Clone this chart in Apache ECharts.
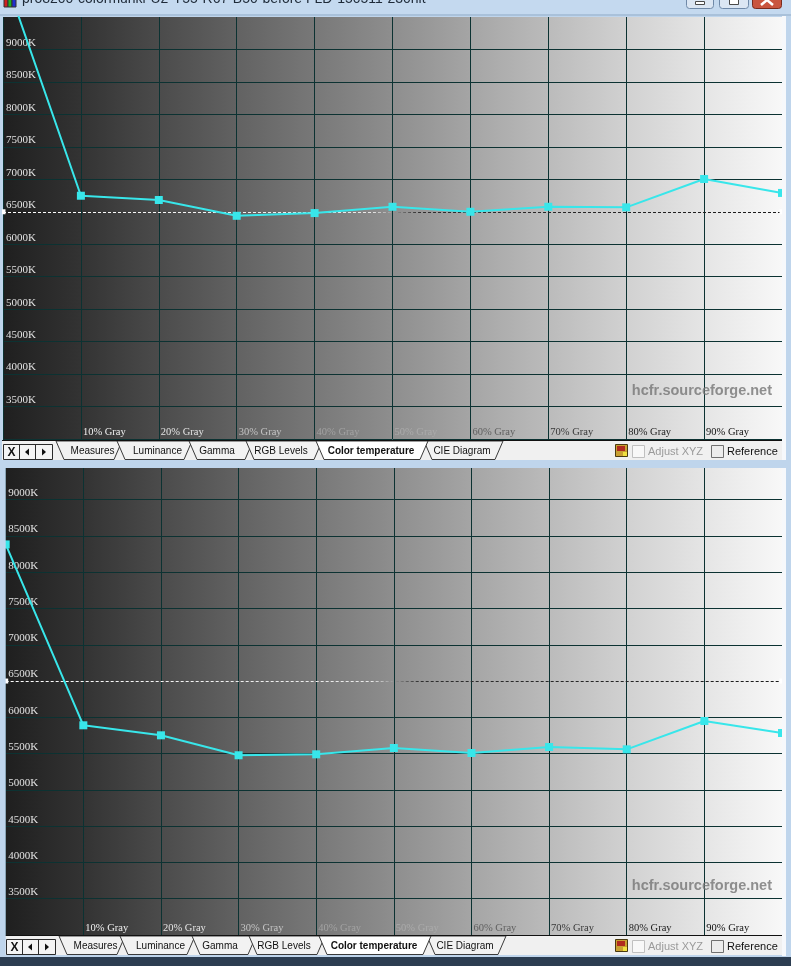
<!DOCTYPE html>
<html><head><meta charset="utf-8">
<script src="https://cdn.jsdelivr.net/npm/echarts@6/dist/echarts.min.js"></script>
<style>html,body{margin:0;padding:0;background:#bfd5ec;}#c{width:791px;height:966px;}</style>
</head><body><div id="c"></div><script>
// ---------- data ----------
const grayLevels = [0, 10, 20, 30, 40, 50, 60, 70, 80, 90, 100];
const tempBefore = [10200, 6747, 6681, 6438, 6480, 6577, 6500, 6577, 6568, 7005, 6790];
const tempAfter = [8383, 5890, 5752, 5477, 5490, 5577, 5508, 5591, 5559, 5949, 5784];
const referenceTemp = 6500;
const yTickValues = [3500, 4000, 4500, 5000, 5500, 6000, 6500, 7000, 7500, 8000, 8500, 9000];
const xTickValues = [10, 20, 30, 40, 50, 60, 70, 80, 90];
const xTickLabels = ['10% Gray', '20% Gray', '30% Gray', '40% Gray', '50% Gray', '60% Gray', '70% Gray', '80% Gray', '90% Gray'];
const tabNames = ['Measures', 'Luminance', 'Gamma', 'RGB Levels', 'Color temperature', 'CIE Diagram'];
const activeTab = 4;
const titleText = 'pro8200-colormunki-U2-Y55-R67-B50-before FLD-150511-230nit';
const watermarkText = 'hcfr.sourceforge.net';
const checkLabels = ['Adjust XYZ', 'Reference'];

// ---------- styles ----------
const CYAN = '#38e6ea';
const GRIDLINE = '#0c3232';
const xLabelColors = ['#f0f0f0', '#e4e4e4', '#c4c4c4', '#a2a2a2', '#ababab', '#606060', '#383838', '#1c1c1c', '#101010'];
const bgStops = ['#1f1f1f', '#333333', '#4b4b4b', '#626262', '#787878', '#8e8e8e', '#a5a5a5', '#bbbbbb', '#d1d1d1', '#e5e5e5', '#f8f8f8'];
function bgGradient() {
  return {type: 'linear', x: 0, y: 0, x2: 1, y2: 0,
    colorStops: bgStops.map((c, i) => ({offset: i / 10, color: c}))};
}
const dashGradient = {type: 'linear', x: 0, y: 0, x2: 791, y2: 0, global: true,
  colorStops: [{offset: 0, color: '#ffffff'}, {offset: 0.47, color: '#e8e8e8'}, {offset: 0.53, color: '#2e2e2e'}, {offset: 1, color: '#1a1a1a'}]};
// horizontal split lines: the one under the reference line is left out
const ySplitColors = [];
for (let v = 3000; v <= 9500; v += 500) ySplitColors.push(v === referenceTemp ? 'rgba(0,0,0,0)' : GRIDLINE);

function xAxisCfg(gi) {
  return {
    gridIndex: gi, type: 'value', min: 0, max: 100, interval: 10,
    axisLine: {show: false}, axisTick: {show: false},
    splitLine: {show: true, lineStyle: {color: GRIDLINE, width: 1}},
    axisLabel: {
      inside: true, align: 'left', verticalAlign: 'bottom', margin: 1, padding: [0, 0, 0, 2],
      fontFamily: 'Liberation Serif', fontSize: 10.5,
      color: v => { const i = xTickValues.indexOf(Number(v)); return i >= 0 ? xLabelColors[i] : '#000'; },
      formatter: v => { const i = xTickValues.indexOf(Number(v)); return i >= 0 ? xTickLabels[i] : ''; }
    }
  };
}
function yAxisCfg(gi, max, margin) {
  return {
    gridIndex: gi, type: 'value', min: 3000, max: max, interval: 500,
    axisLine: {show: false}, axisTick: {show: false},
    splitLine: {show: true, showMaxLine: false, lineStyle: {color: ySplitColors, width: 1}},
    axisLabel: {
      inside: true, align: 'left', verticalAlign: 'bottom', margin: margin, padding: [0, 0, 1, 0],
      fontFamily: 'Liberation Serif', fontSize: 11, color: '#e2e2e2',
      formatter: v => yTickValues.indexOf(Number(v)) >= 0 ? v + 'K' : ''
    }
  };
}
function seriesCfg(gi, temps) {
  return {
    type: 'line', xAxisIndex: gi, yAxisIndex: gi, clip: true, animation: false, z: 5,
    data: grayLevels.map((g, i) => [g, temps[i]]),
    symbol: 'rect', symbolSize: 8, showAllSymbol: true,
    lineStyle: {color: CYAN, width: 2}, itemStyle: {color: CYAN},
    markLine: {
      silent: true, animation: false, symbol: ['rect', 'rect'], symbolSize: 5, z: 3,
      label: {show: false},
      lineStyle: {type: [3, 2], width: 1, color: dashGradient},
      data: [{yAxis: referenceTemp}]
    }
  };
}

// ---------- graphic helpers ----------
function R(x, y, w, h, fill, stroke, extra) {
  return Object.assign({type: 'rect', z: 100, silent: true, shape: {x: x, y: y, width: w, height: h},
    style: {fill: fill || 'none', stroke: stroke || null, lineWidth: 1}}, extra || {});
}
function T(text, x, y, font, fill, align) {
  return {type: 'text', z: 102, silent: true,
    style: {text: text, x: x, y: y, font: font, fill: fill, align: align || 'left', textAlign: align || 'left',
      verticalAlign: 'middle', textVerticalAlign: 'middle'}};
}
function P(points, fill, stroke, z) {
  return {type: 'polygon', z: z || 101, silent: true, shape: {points: points}, style: {fill: fill, stroke: stroke || null, lineWidth: 1}};
}
function L(x1, y1, x2, y2, stroke) {
  return {type: 'line', z: 101, silent: true, shape: {x1: x1, y1: y1, x2: x2, y2: y2}, style: {stroke: stroke, lineWidth: 1}};
}

function tabBar(y0, dx, left) {
  const e = [];
  e.push(R(left, y0, 782 - left, 20, '#f0f0f0'));
  // nav buttons
  e.push(R(3.5 + dx, y0 + 4.5, 49, 15, '#f4f4f4', '#2a2a2a', {z: 101}));
  e.push(L(19.5 + dx, y0 + 4.5, 19.5 + dx, y0 + 19.5, '#2a2a2a'));
  e.push(L(35.5 + dx, y0 + 4.5, 35.5 + dx, y0 + 19.5, '#2a2a2a'));
  e.push(T('X', 11.5 + dx, y0 + 12.5, 'bold 12px "Liberation Sans"', '#111', 'center'));
  e.push(P([[25 + dx, y0 + 12], [29 + dx, y0 + 8.5], [29 + dx, y0 + 15.5]], '#111'));
  e.push(P([[46 + dx, y0 + 12], [42 + dx, y0 + 8.5], [42 + dx, y0 + 15.5]], '#111'));
  // tabs
  const geo = [[56, 122, 92.5], [117, 192, 157.5], [189, 253, 217], [246, 322, 281], [316, 428, 371], [424, 503, 462]];
  const order = [0, 1, 2, 3, 5, 4];
  order.forEach((i, k) => {
    const g = geo[i], act = i === activeTab;
    e.push(P([[g[0] + dx, y0 + 1], [g[1] + dx, y0 + 1], [g[1] - 8 + dx, y0 + 19.5], [g[0] + 8 + dx, y0 + 19.5]],
      act ? '#ffffff' : '#f2f2f2', '#3a3a3a', 101 + k));
    e.push(Object.assign(T(tabNames[i], g[2] + dx, y0 + 11.5, (act ? 'bold ' : '') + '10px "Liberation Sans"', '#111', 'center'), {z: 110}));
  });
  e.push(R(left, y0, 782 - left, 1, '#111', null, {z: 111}));
  // right controls
  e.push(R(615.5, y0 + 4.5, 12, 12, '#c9a032', '#4a3a10', {z: 101}));
  e.push(R(617, y0 + 6, 8, 5, '#b02a1e', null, {z: 102}));
  e.push(R(623, y0 + 12, 4, 4, '#f0e040', null, {z: 102}));
  e.push(R(632.5, y0 + 5.5, 12, 12, '#f8f8f8', '#c0c0c0', {z: 101}));
  e.push(T(checkLabels[0], 648, y0 + 11.5, '11px "Liberation Sans"', '#9a9a9a'));
  e.push(R(711.5, y0 + 5.5, 12, 12, '#ececec', '#707070', {z: 101}));
  e.push(T(checkLabels[1], 727, y0 + 11.5, '11px "Liberation Sans"', '#111'));
  return e;
}

const BLUE = '#bfd5ec';
let graphics = [];
// title bar
graphics.push(R(0, 0, 791, 16, '#c4d9ef'));
graphics.push(R(0, 14, 791, 2, '#a9c1da'));
graphics.push(R(4, -2, 4, 9, '#d02020', '#333', {z: 101}));
graphics.push(R(8, -2, 4, 9, '#20b020', '#333', {z: 101}));
graphics.push(R(12, -2, 4, 9, '#2030d0', '#333', {z: 101}));
graphics.push(T(titleText, 22, -1, '14px "Liberation Sans"', '#1e2a38'));
graphics.push(R(686.5, -6.5, 27, 15, '#dbe6f3', '#6f89a8', {shape: {x: 686.5, y: -6.5, width: 27, height: 15, r: 3}}));
graphics.push(R(695.5, 1.5, 9, 3, '#ffffff', '#4a4a4a', {z: 101}));
graphics.push(R(719.5, -6.5, 29, 15, '#dbe6f3', '#6f89a8', {shape: {x: 719.5, y: -6.5, width: 29, height: 15, r: 3}}));
graphics.push(R(729.5, -2.5, 9, 7, '#ffffff', '#4a4a4a', {z: 101}));
graphics.push(R(752.5, -6.5, 29, 15, '#c9553f', '#7a2a1c', {shape: {x: 752.5, y: -6.5, width: 29, height: 15, r: 3}}));
graphics.push({type: 'polyline', z: 101, silent: true, shape: {points: [[761, 5], [767, 0], [773, 5]]}, style: {stroke: '#ffffff', lineWidth: 2.5, fill: null}});
// window borders (cover overflow)
graphics.push(R(0, 16, 2, 445, BLUE));
graphics.push(R(0, 460, 791, 8, BLUE));
graphics.push(R(0, 468, 5.7, 490, BLUE));
graphics.push(R(782, 16, 4, 444, '#f6f8fb'));
graphics.push(R(786, 16, 5, 444, BLUE));
graphics.push(R(782, 468, 4, 488, '#f6f8fb'));
graphics.push(R(786, 468, 5, 488, BLUE));
graphics.push(R(0, 957, 791, 9, '#2c3d51'));
// watermarks
graphics.push(T(watermarkText, 772, 391, 'bold 14.5px "Liberation Sans"', 'rgba(118,118,118,0.8)', 'right'));
graphics.push(T(watermarkText, 772, 886, 'bold 14.5px "Liberation Sans"', 'rgba(118,118,118,0.8)', 'right'));
// tab bars
graphics = graphics.concat(tabBar(440, 0, 2), tabBar(935, 3, 5.7));

const chart = echarts.init(document.getElementById('c'), null, {renderer: 'canvas'});
chart.setOption({
  animation: false,
  backgroundColor: 'transparent',
  grid: [
    {left: 2, top: 17, width: 780, height: 422, show: true, borderWidth: 0, backgroundColor: bgGradient()},
    {left: 5.7, top: 468, width: 776.3, height: 467, show: true, borderWidth: 0, backgroundColor: bgGradient()}
  ],
  xAxis: [xAxisCfg(0), xAxisCfg(1)],
  yAxis: [yAxisCfg(0, 9500, 3), yAxisCfg(1, 9436, 2.5)],
  series: [seriesCfg(0, tempBefore), seriesCfg(1, tempAfter)],
  graphic: {elements: graphics}
});
</script></body></html>
